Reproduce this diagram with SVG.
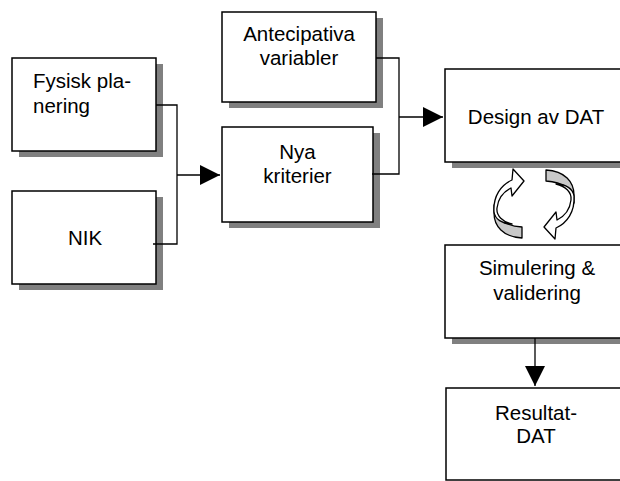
<svg xmlns="http://www.w3.org/2000/svg" width="620" height="481" viewBox="0 0 620 481">
<defs>
<style>
.box{fill:#fff;stroke:#000;stroke-width:1.5}
.sh{fill:#808080}
.t{font-family:"Liberation Sans",Arial,sans-serif;font-size:20.5px;fill:#000}
.c{text-anchor:middle}
.ln{fill:none;stroke:#000;stroke-width:1.3}
.cyc{stroke:#000;stroke-width:1.3;stroke-linejoin:round}
</style>
<marker id="ah" markerUnits="userSpaceOnUse" markerWidth="20" markerHeight="20" refX="20" refY="10" orient="auto" viewBox="0 0 20 20">
<path d="M0,0 L20,10 L0,20 Z" fill="#000"/>
</marker>
</defs>
<rect width="620" height="481" fill="#fff"/>

<g id="fysisk">
<rect class="sh" x="19" y="64" width="144" height="93"/>
<rect class="box" x="12" y="58" width="144" height="93"/>
<text class="t" x="33" y="88">Fysisk pla-</text>
<text class="t" x="33" y="113">nering</text>
</g>

<g id="nik">
<rect class="sh" x="19" y="197" width="144" height="93"/>
<rect class="box" x="12" y="191" width="144" height="93"/>
<text class="t c" x="85" y="245">NIK</text>
</g>

<g id="antecipativa">
<rect class="sh" x="229" y="18" width="154" height="90"/>
<rect class="box" x="222" y="12" width="154" height="90"/>
<text class="t c" x="299" y="41">Antecipativa</text>
<text class="t c" x="299" y="65">variabler</text>
</g>

<g id="nya">
<rect class="sh" x="229" y="133" width="151" height="95"/>
<rect class="box" x="222" y="127" width="151" height="95"/>
<text class="t c" x="297.5" y="159">Nya</text>
<text class="t c" x="297.5" y="183">kriterier</text>
</g>

<g id="design">
<rect class="sh" x="452" y="75" width="185" height="93"/>
<rect class="box" x="445" y="69" width="185" height="93"/>
<text class="t c" x="536" y="124">Design av DAT</text>
</g>

<g id="simulering">
<rect class="sh" x="452" y="251" width="185" height="93"/>
<rect class="box" x="445" y="245" width="185" height="93"/>
<text class="t c" x="537" y="275">Simulering &amp;</text>
<text class="t c" x="537" y="300">validering</text>
</g>

<g id="resultat">
<rect class="box" x="446" y="388" width="185" height="92"/>
<text class="t c" x="536" y="420">Resultat-</text>
<text class="t c" x="536" y="443">DAT</text>
</g>

<g id="cycle">
<g id="cyc-left">
<path class="cyc" fill="#c8c8c8" d="M494,205 C494,218 505,226 522,227 L522,238 C503,237 494,226 494,213 Z"/>
<path class="cyc" fill="#fff" d="M494,212 C493,196 501,185 512,180 L513,169 L524,181 L512,196 L511,188 C503,192 498,199 497,208 C496,216 503,222 512,224 C502,224 495,219 494,212 Z"/>
</g>
<g transform="rotate(180 534 204)">
<path class="cyc" fill="#c8c8c8" d="M494,205 C494,218 505,226 522,227 L522,238 C503,237 494,226 494,213 Z"/>
<path class="cyc" fill="#fff" d="M494,212 C493,196 501,185 512,180 L513,169 L524,181 L512,196 L511,188 C503,192 498,199 497,208 C496,216 503,222 512,224 C502,224 495,219 494,212 Z"/>
</g>
</g>

<g id="connectors">
<path class="ln" d="M156,105 H177 V244 H153"/>
<path class="ln" d="M177,175 H220" marker-end="url(#ah)"/>
<path class="ln" d="M376,58 H399 V174 H372"/>
<path class="ln" d="M399,117 H443" marker-end="url(#ah)"/>
<path class="ln" d="M535,338 V386" marker-end="url(#ah)"/>
</g>
</svg>
